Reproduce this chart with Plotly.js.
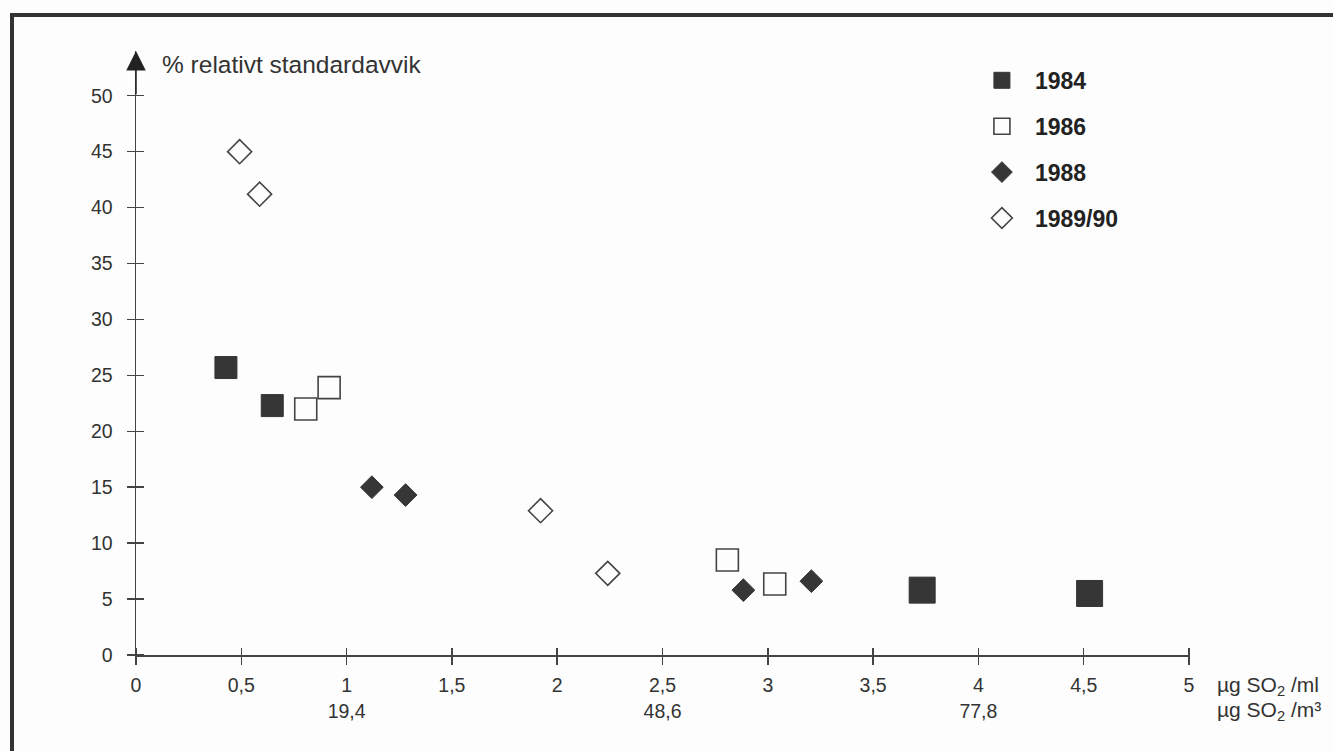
<!DOCTYPE html>
<html>
<head>
<meta charset="utf-8">
<script src="https://cdn.plot.ly/plotly-3.0.1.min.js"></script>
<style>
  html, body { margin: 0; padding: 0; background: #fdfdfd; }
  #wrap { position: relative; width: 1333px; height: 751px; }
  #chart { position: absolute; left: 0; top: 0; width: 1333px; height: 751px; }
  #frame { position: absolute; left: 10px; top: 13px; right: 0; bottom: 0;
           border-top: 4px solid #333; border-left: 4px solid #333; pointer-events: none; }
</style>
</head>
<body>
<div id="wrap">
  <div id="chart"></div>
  <div id="frame"></div>
</div>
<script>
// ---- data ----
const x1984 = [0.427, 0.647, 3.733, 4.528];
const y1984 = [25.7, 22.3, 5.8, 5.5];
const s1984 = [22, 22, 26, 26];

const x1986 = [0.806, 0.917, 2.808, 3.033];
const y1986 = [22.0, 23.9, 8.5, 6.35];

const x1988 = [1.12, 1.28, 2.884, 3.207];
const y1988 = [15.0, 14.3, 5.8, 6.6];

const x1989 = [0.492, 0.587, 1.921, 2.24];
const y1989 = [45.0, 41.2, 12.9, 7.3];

const seriesNames = ['1984', '1986', '1988', '1989/90'];

const xTickVals = [0, 0.5, 1, 1.5, 2, 2.5, 3, 3.5, 4, 4.5, 5];
const xTickText = ['0', '0,5', '1', '1,5', '2', '2,5', '3', '3,5', '4', '4,5', '5'];
const xTickVals2 = [1, 2.5, 4];
const xTickText2 = ['19,4', '48,6', '77,8'];
const yTickVals = [0, 5, 10, 15, 20, 25, 30, 35, 40, 45, 50];

const yTitle = '% relativt standardavvik';
const unit1 = 'µg SO<sub>2</sub> /ml';
const unit2 = 'µg SO<sub>2</sub> /m³';

// ---- styling ----
const FONT = 'Liberation Sans, Arial, Helvetica, sans-serif';
const INK = '#333333';
const AX = '#444444';
const TICKFONT = { family: FONT, size: 19.5, color: INK };

const traces = [
  { x: x1984, y: y1984, name: seriesNames[0], type: 'scatter', mode: 'markers', legendgroup: 'a',
    marker: { symbol: 'square', size: s1984, opacity: 1, color: '#363636', line: { color: '#363636', width: 1 } } },
  { x: x1986, y: y1986, name: seriesNames[1], type: 'scatter', mode: 'markers', legendgroup: 'b',
    xaxis: 'x2', yaxis: 'y2',
    marker: { symbol: 'square-open', size: 22, color: '#444444', line: { color: '#444444', width: 1.6 } } },
  { x: x1988, y: y1988, name: seriesNames[2], type: 'scatter', mode: 'markers', legendgroup: 'c',
    marker: { symbol: 'diamond', size: 17.5, color: '#363636', line: { color: '#363636', width: 1 } } },
  { x: x1989, y: y1989, name: seriesNames[3], type: 'scatter', mode: 'markers', legendgroup: 'd',
    xaxis: 'x3', yaxis: 'y2',
    marker: { symbol: 'diamond-open', size: 18.5, color: '#444444', line: { color: '#444444', width: 1.6 } } }
];

const layout = {
  width: 1333, height: 751,
  margin: { l: 136, r: 144, t: 51, b: 96, pad: 0 },
  paper_bgcolor: 'rgba(0,0,0,0)',
  plot_bgcolor: 'rgba(0,0,0,0)',
  font: { family: FONT, color: INK, size: 20 },
  showlegend: true,
  legend: {
    x: 0.791, y: 0.987, xanchor: 'left', yanchor: 'top',
    bgcolor: 'rgba(0,0,0,0)', borderwidth: 0,
    traceorder: 'grouped', tracegroupgap: 13,
    font: { family: FONT, size: 23, color: '#222', weight: 'bold' },
    itemwidth: 56
  },
  xaxis: {
    range: [0, 5], showgrid: false, zeroline: false,
    showline: true, linecolor: AX, linewidth: 1.5,
    ticks: 'outside', ticklen: 8, tickwidth: 1.5, tickcolor: AX,
    tickvals: xTickVals, ticktext: xTickText,
    tickfont: TICKFONT,
    ticklabelstandoff: 4,
    fixedrange: true
  },
  // overlay axis: its line sits 8px above the main axis, its 16px ticks cross the main axis
  xaxis2: {
    overlaying: 'x', anchor: 'free', position: 8 / 604, side: 'bottom', range: [0, 5],
    showgrid: false, zeroline: false, showline: false,
    ticks: 'outside', ticklen: 16, tickwidth: 1.5, tickcolor: AX,
    tickvals: xTickVals, showticklabels: false,
    fixedrange: true
  },
  // second row of tick labels (µg SO2/m3)
  xaxis3: {
    overlaying: 'x', anchor: 'y', side: 'bottom', range: [0, 5],
    showgrid: false, zeroline: false, showline: false, ticks: '',
    tickvals: xTickVals2, ticktext: xTickText2,
    tickfont: TICKFONT,
    ticklabelstandoff: 42,
    fixedrange: true
  },
  yaxis: {
    range: [0, 54], showgrid: false, zeroline: false,
    showline: true, linecolor: AX, linewidth: 1.5,
    ticks: 'outside', ticklen: 8, tickwidth: 1.5, tickcolor: AX,
    tickvals: yTickVals,
    tickfont: TICKFONT,
    ticklabelstandoff: 10,
    fixedrange: true
  },
  yaxis2: {
    overlaying: 'y', anchor: 'free', position: 8 / 1054, side: 'left', range: [0, 54],
    showgrid: false, zeroline: false, showline: false,
    ticks: 'outside', ticklen: 16, tickwidth: 1.5, tickcolor: AX,
    tickvals: yTickVals, showticklabels: false,
    fixedrange: true
  },
  annotations: [
    { x: 0, y: 54, xref: 'x', yref: 'y', ax: 0, ay: 50, axref: 'x', ayref: 'y',
      text: '', showarrow: true, arrowhead: 2, arrowsize: 2.6, arrowwidth: 1.5,
      arrowcolor: '#222', standoff: 0 },
    { x: 0.0228, y: 0.977, xref: 'paper', yref: 'paper', xanchor: 'left', yanchor: 'middle',
      text: yTitle, showarrow: false, font: { family: FONT, size: 24.5, color: INK } },
    { x: 1.0247, y: -0.051, xref: 'paper', yref: 'paper', xanchor: 'left', yanchor: 'middle',
      text: unit1, showarrow: false, font: { family: FONT, size: 21, color: INK } },
    { x: 1.0247, y: -0.093, xref: 'paper', yref: 'paper', xanchor: 'left', yanchor: 'middle',
      text: unit2, showarrow: false, font: { family: FONT, size: 21, color: INK } }
  ]
};

Plotly.newPlot('chart', traces, layout, { staticPlot: true, displayModeBar: false });
</script>
</body>
</html>
